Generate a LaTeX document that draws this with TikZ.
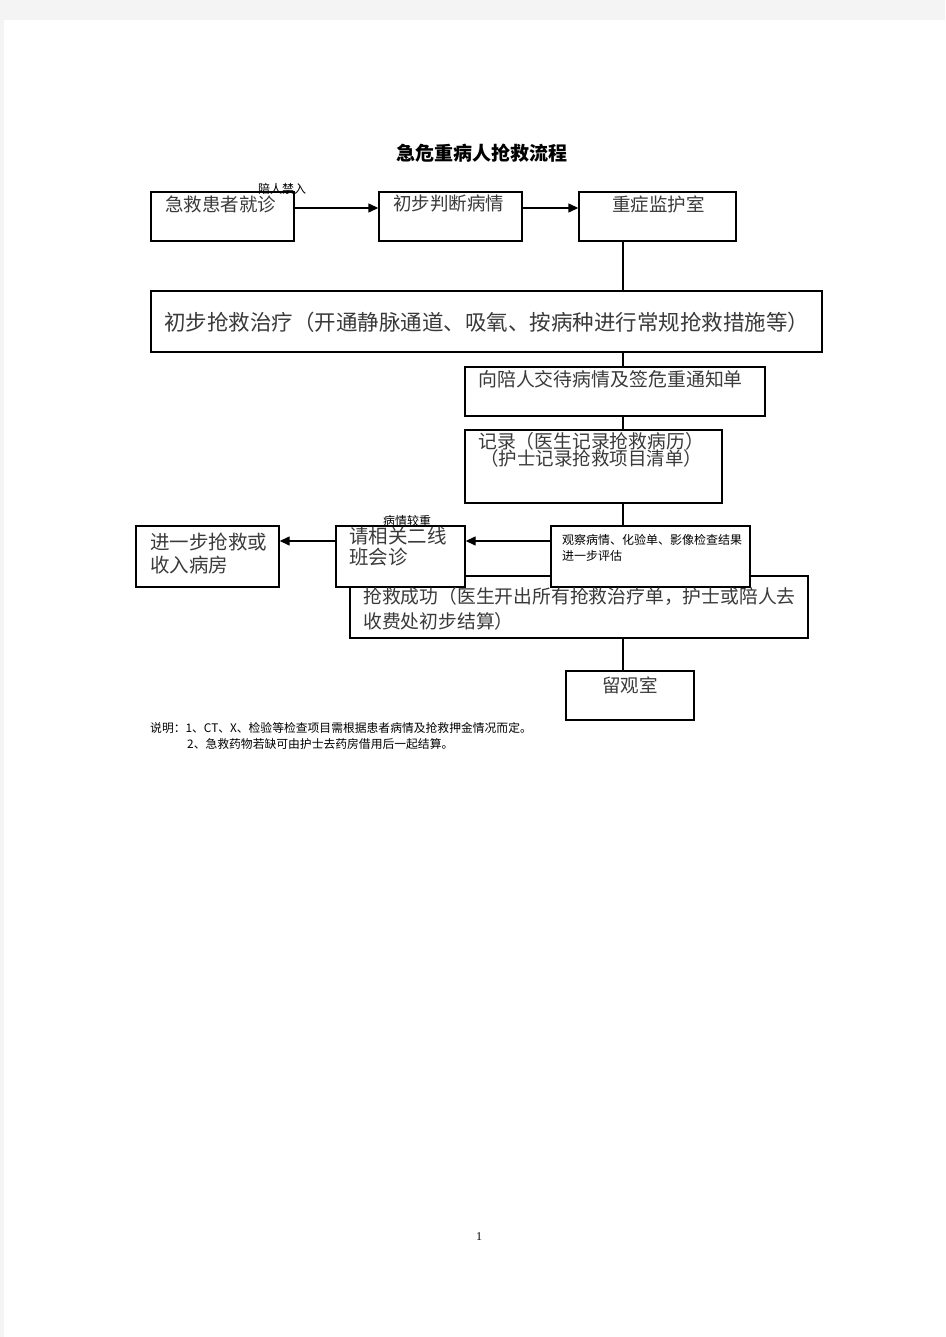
\documentclass[tikz,border=0pt]{standalone}
\usepackage{fontspec}
\setmainfont{Noto Sans CJK SC}
\newfontfamily\numfont{Liberation Serif}
\usetikzlibrary{arrows.meta}
\definecolor{pagegray}{HTML}{F4F4F4}
\definecolor{boxtext}{HTML}{3A3A3A}
\tikzset{
  box/.style={draw=black, line width=1.4pt, fill=white, inner sep=0pt},
  bigbox/.style={box, line width=1.8pt},
  btxt/.style={anchor=west, inner sep=0pt, text=boxtext, font=\fontsize{18.5}{18.5}\selectfont},
  small/.style={anchor=west, inner sep=0pt, text=black, font=\fontsize{12}{12}\selectfont},
  conn/.style={draw=black, line width=1.4pt},
  arr/.style={conn, -{Triangle[length=10pt,width=9pt]}}
}
\begin{document}
\begin{tikzpicture}[x=1pt,y=-1pt]
\useasboundingbox (0,0) rectangle (945,1337);
\fill[pagegray] (0,0) rectangle (945,1337);
\fill[white] (4,20) rectangle (945,1337);

\coordinate (spine) at (623,0);
\coordinate (row1) at (0,208);
\coordinate (row2) at (0,541);

% title
\node[inner sep=0pt, font=\bfseries\fontsize{19}{19}\selectfont] (title) at (482,153) {急危重病人抢救流程};

% boxes
\node[box, minimum width=143pt, minimum height=49pt] (a) at (222.5,216.5) {};
\node[box, minimum width=143pt, minimum height=49pt] (b) at (450.5,216.5) {};
\node[box, minimum width=157pt, minimum height=49pt] (c) at (657.5,216.5) {};
\node[bigbox, minimum width=671pt, minimum height=61pt] (d) at (486.5,321.5) {};
\node[box, minimum width=300pt, minimum height=49pt] (e) at (615,391.5) {};
\node[box, minimum width=257pt, minimum height=73pt] (f) at (593.5,466.5) {};
\node[bigbox, minimum width=458pt, minimum height=62pt] (j) at (579,607) {};
\node[box, minimum width=199pt, minimum height=61pt] (g) at (650.5,556.5) {};
\node[box, minimum width=129pt, minimum height=61pt] (h) at (400.5,556.5) {};
\node[box, minimum width=143pt, minimum height=61pt] (i) at (207.5,556.5) {};
\node[box, minimum width=128pt, minimum height=49pt] (k) at (630,695.5) {};

% box texts
\node[btxt] (ta) at (165,204) {急救患者就诊};
\node[btxt] (tb) at (393,204) {初步判断病情};
\node[btxt] (tc) at (612,204) {重症监护室};
\node[btxt, font=\fontsize{21.5}{21.5}\selectfont] (td) at (164,322) {初步抢救治疗（开通静脉通道、吸氧、按病种进行常规抢救措施等）};
\node[btxt, font=\fontsize{18.9}{18.9}\selectfont] (te) at (478,379) {向陪人交待病情及签危重通知单};
\node[btxt, font=\fontsize{18.8}{18.8}\selectfont] (tf1) at (478,441) {记录（医生记录抢救病历）};
\node[btxt, font=\fontsize{18.5}{18.5}\selectfont] (tf2) at (480,458) {（护士记录抢救项目清单）};
\node[btxt, font=\fontsize{19.5}{19.5}\selectfont] (th1) at (349,536) {请相关二线};
\node[btxt, font=\fontsize{19.5}{19.5}\selectfont] (th2) at (349,557) {班会诊};
\node[btxt, font=\fontsize{19.5}{19.5}\selectfont] (ti1) at (150,542) {进一步抢救或};
\node[btxt, font=\fontsize{19.5}{19.5}\selectfont] (ti2) at (150,565) {收入病房};
\node[btxt, font=\fontsize{18.8}{18.8}\selectfont] (tj1) at (363,596) {抢救成功（医生开出所有抢救治疗单，护士或陪人去};
\node[btxt, font=\fontsize{18.8}{18.8}\selectfont] (tj2) at (363,621) {收费处初步结算）};
\node[btxt] (tk) at (602,685) {留观室};
\node[small] (tg1) at (562,540) {观察病情、化验单、影像检查结果};
\node[small] (tg2) at (562,556) {进一步评估};

% labels
\node[small] (l1) at (258,189) {陪人禁入};
\node[small] (l2) at (383,521) {病情较重};

% connectors
\draw[arr] (a.east |- row1) -- (b.west |- row1);
\draw[arr] (b.east |- row1) -- (c.west |- row1);
\draw[conn] (c.south -| spine) -- (d.north -| spine);
\draw[conn] (d.south -| spine) -- (e.north -| spine);
\draw[conn] (e.south -| spine) -- (f.north -| spine);
\draw[conn] (f.south -| spine) -- (g.north -| spine);
\draw[arr] (g.west |- row2) -- (h.east |- row2);
\draw[arr] (h.west |- row2) -- (i.east |- row2);
\draw[conn] (j.south -| spine) -- (k.north -| spine);

% notes
\node[anchor=west, inner sep=0pt, font=\fontsize{11.8}{11.8}\selectfont] (n1) at (150,728) {说明：1、CT、X、检验等检查项目需根据患者病情及抢救押金情况而定。};
\node[anchor=west, inner sep=0pt, font=\fontsize{11.8}{11.8}\selectfont] (n2) at (187,744) {2、急救药物若缺可由护士去药房借用后一起结算。};

\node[inner sep=0pt, font=\numfont\fontsize{12}{12}\selectfont] (pg) at (479,1237) {1};
\end{tikzpicture}
\end{document}
